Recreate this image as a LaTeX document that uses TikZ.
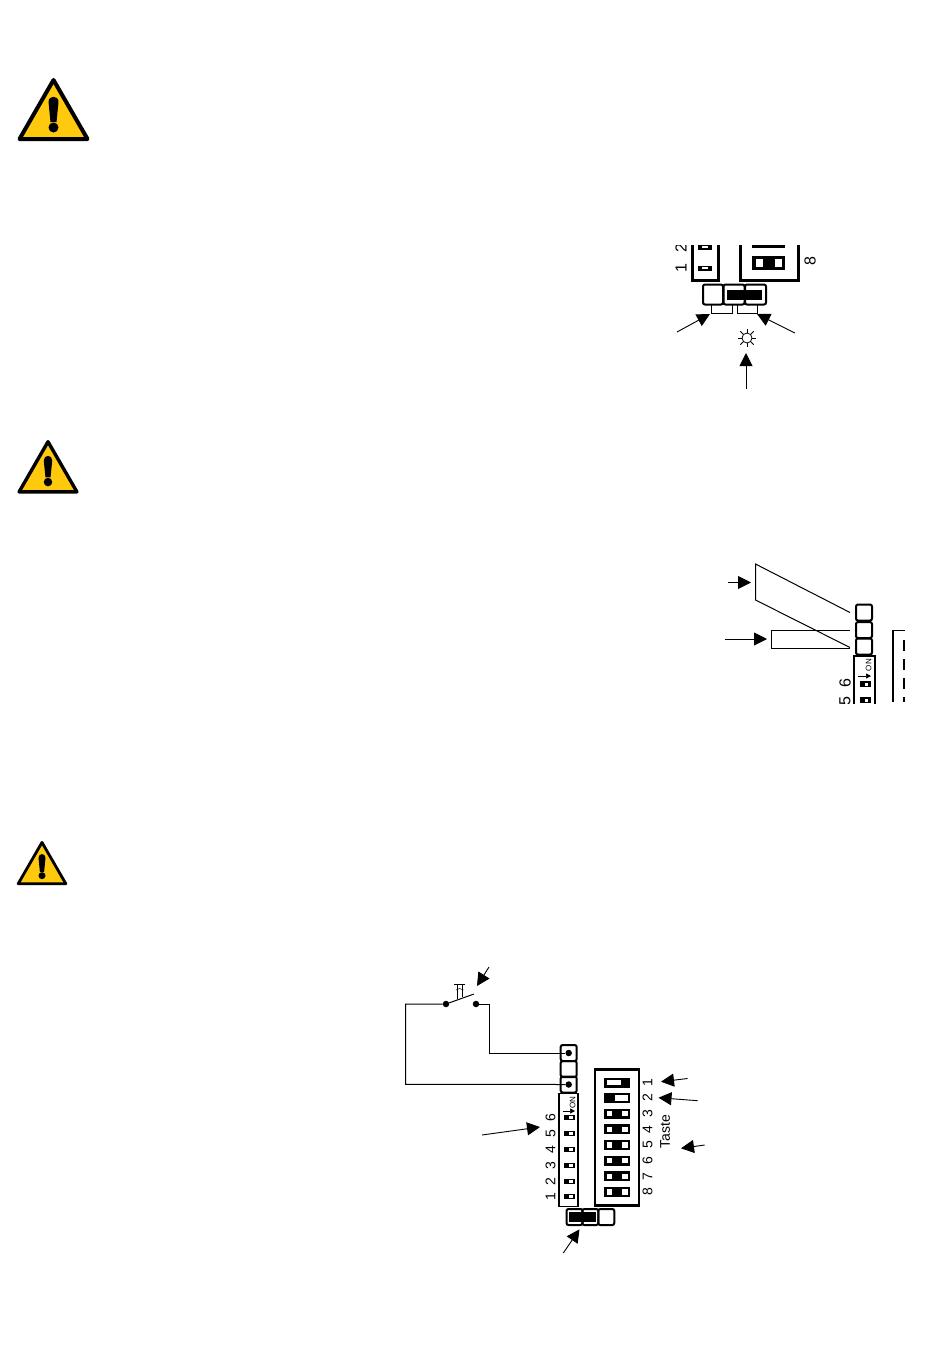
\documentclass[tikz,border=0pt]{standalone}
\usepackage{fontspec}
\setmainfont{Liberation Sans}
\usetikzlibrary{arrows.meta}
\definecolor{warnyellow}{HTML}{FFC90E}
\tikzset{
  term/.style = {draw, line width=2pt, rounded corners=2pt, inner sep=0pt, minimum width=16pt, minimum height=16pt},
  bar/.style = {fill=black, inner sep=0pt, minimum width=26pt, minimum height=10pt},
  gap/.style = {fill=white, inner sep=0pt, minimum height=5.5pt},
  dot/.style = {circle, fill=black, inner sep=0pt, minimum size=6.5pt},
  num/.style = {rotate=90, inner sep=0pt, font=\fontsize{14}{14}\selectfont},
  bignum/.style = {rotate=90, inner sep=0pt, font=\fontsize{16}{16}\selectfont},
  arr/.style = {line width=0.9pt, -{Triangle[length=13pt, width=13pt]}},
  wire/.style = {line width=1pt},
  frame/.style = {line width=3pt},
}
\newcommand{\warnsign}[3]{
  \begin{scope}[shift={(#1,#2)}, scale=#3]
    \filldraw[fill=warnyellow, line width=#3*4pt, line join=round] (0,2) -- (34,61) -- (-34,61) -- cycle;
    \fill (-5,24) .. controls (-5,17) and (5,17) .. (5,24) -- (3,44) -- (-3,44) -- cycle;
    \fill (0,49.5) circle (5);
  \end{scope}
}
\begin{document}
\begin{tikzpicture}[x=1pt, y=-1pt]
    \useasboundingbox (0,0) rectangle (950,1369);

    \warnsign{53.5}{78}{1}
    \warnsign{48}{440}{0.85}
    \warnsign{42}{841}{0.7}

    % jumper, top
    \begin{scope}
        \clip (670,245.5) rectangle (830,300);
        \draw[frame] (692,240) -- (692,280) -- (718,280) -- (718,240);
        \draw[frame] (740,240) -- (740,280) -- (798,280) -- (798,240);
        \node[bignum] (topb) at (681,248) {2};
        \node[bar, minimum width=14pt, minimum height=5pt] (tops2) at (705,247) {};
        \node[gap, minimum width=6pt, minimum height=2pt] at (705,247) {};
        \node[bar, minimum width=33pt, minimum height=8pt] (topk7) at (768.5,244) {};
    \end{scope}
    \node[bignum] (topa) at (681,268) {1};
    \node[bar, minimum width=14pt, minimum height=5pt] (tops1) at (705,268) {};
    \node[gap, minimum width=6pt, minimum height=2pt] at (705,268) {};
    \node[bar, minimum width=33pt, minimum height=14pt] (topk8) at (768.5,263) {};
    \node[gap, minimum width=7pt, minimum height=8pt] at (759,263) {};
    \node[gap, minimum width=7pt, minimum height=8pt] at (778,263) {};
    \node[bignum] (topc) at (810,261) {8};

    \node[term, minimum width=20pt, minimum height=20pt] (T1) at (713,294.5) {};
    \node[term, minimum width=21pt, minimum height=20pt] (T2) at (734,294.5) {};
    \node[term, minimum width=21pt, minimum height=20pt] (T3) at (755.5,294.5) {};
    \node[fill=black, inner sep=0pt, minimum width=35pt, minimum height=10pt] (J1) at (744.5,295) {};

    \draw[line width=0.6pt] (711,305) |- (732,313) -- (732,305);
    \draw[line width=0.6pt] (737,305) |- (757,313) -- (757,305);

    \coordinate (a1) at (677,332);
    \coordinate (a2) at (710,314);
    \coordinate (b1) at (795,333);
    \coordinate (b2) at (757,314);
    \coordinate (c1) at (746,389);
    \coordinate (c2) at (746,353);
    \draw[arr] (a1) -- (a2);
    \draw[arr] (b1) -- (b2);
    \draw[arr] (c1) -- (c2);

    \node[draw, circle, line width=0.8pt, inner sep=0pt, minimum size=10pt] (sun) at (747,338) {};
    \foreach \a in {0,45,...,315}
        \draw[line width=0.9pt] (sun.\a) -- ++(-\a:4);

    % two wires, middle
    \node[term] (M1) at (864,612.5) {};
    \node[term] (M2) at (864,630) {};
    \node[term] (M3) at (864,646.5) {};
    \coordinate (p1) at (755.5,564);
    \coordinate (p2) at (755.5,600);
    \coordinate (p3) at (850,612.5);
    \coordinate (p4) at (850,647.5);
    \coordinate (r1) at (771,630);
    \coordinate (r2) at (771,648);
    \coordinate (r3) at (850,630);
    \coordinate (r4) at (850,648);
    \draw[wire] (p3) -- (p1) -- (p2) -- (p4);
    \draw[wire] (r3) -- (r1) -- (r2) -- (r4);
    \coordinate (d1) at (728,582.5);
    \coordinate (d2) at (751,582.5);
    \coordinate (e1) at (725,639);
    \coordinate (e2) at (767,639);
    \draw[arr] (d1) -- (d2);
    \draw[arr] (e1) -- (e2);
    \begin{scope}
        \clip (830,650) rectangle (915,703);
        \draw[line width=2.2pt] (854,720) -- (854,656) -- (875,656) -- (875,720);
        \node[rotate=90, inner sep=0pt, font=\fontsize{8}{8}\selectfont] (monn) at (868.5,665) {ON};
        \draw[line width=0.7pt, -{Triangle[length=5pt, width=5pt]}] (858,676) -- (871,676);
        \node[bignum] (m6) at (845,683) {6};
        \node[bignum] (m5) at (845,701) {5};
        \node[fill=black, inner sep=0pt, minimum width=11pt, minimum height=6pt] (ms6) at (865,684) {};
        \node[fill=black, inner sep=0pt, minimum width=11pt, minimum height=6pt] (ms5) at (865,700) {};
        \node[gap, minimum width=3pt, minimum height=3pt] at (866,684) {};
        \node[gap, minimum width=3pt, minimum height=3pt] at (866,700) {};
    \end{scope}
    \draw[line width=1.8pt] (905,630.5) -- (893,630.5) -- (893,702);
    \draw[line width=1.3pt, dash pattern=on 11pt off 8pt] (904,640) -- (904,702);

    % push button, bottom
    \node[term] (K1) at (568.7,1053) {};
    \node[term] (K2) at (568.7,1069) {};
    \node[term] (K3) at (568.7,1084.5) {};
    \node[dot] (kd1) at (K1) {};
    \node[dot] (kd3) at (K3) {};
    \node[dot] (sw1) at (446,1004) {};
    \node[dot] (sw2) at (476,1004) {};
    \coordinate (lev) at (474,994);
    \draw[wire] (sw1) -- (lev);
    \draw[wire] (sw1) -| (405.5,1084.3) -- (kd3);
    \draw[wire] (sw2) -| (489.5,1053) -- (kd1);
    \draw[line width=0.7pt] (454,984.5) -- (465,984.5);
    \draw[line width=0.7pt] (457.5,985) -- (457.5,998.5);
    \draw[line width=0.7pt] (462.5,985) -- (462.5,996.5);
    \draw[line width=0.5pt] (456,990) -- (459.5,988.5) -- (463.5,990);
    \coordinate (f1) at (489,967);
    \coordinate (f2) at (477,986);
    \draw[arr] (f1) -- (f2);

    \node[draw, line width=1.8pt, inner sep=0pt, minimum width=19pt, minimum height=113pt] (dipA) at (568.8,1150) {};
    \node[rotate=90, inner sep=0pt, font=\fontsize{8}{8}\selectfont] (onA) at (572.5,1102.5) {ON};
    \draw[line width=0.7pt, -{Triangle[length=5pt, width=5pt]}] (562.5,1111) -- (575,1111);
    \foreach \n/\yy in {6/1117.7, 5/1133.7, 4/1149.7, 3/1165.3, 2/1181.3, 1/1196.7} {
        \node[num] (da\n) at (550.5,\yy) {\n};
        \node[fill=black, inner sep=0pt, minimum width=11pt, minimum height=5.5pt] (sa\n) at (569.7,\yy) {};
        \node[gap, minimum width=4.5pt, minimum height=2.5pt] at (571,\yy) {};
    }

    \node[draw, line width=2.4pt, inner sep=0pt, minimum width=44pt, minimum height=136pt] (dipB) at (617.2,1137.5) {};
    \foreach \n/\yy in {3/1113.7, 4/1129.3, 5/1145, 6/1160.7, 7/1176.3, 8/1192} {
        \node[bar] (sb\n) at (617,\yy) {};
        \node[gap, minimum width=5.8pt] at (609.5,\yy) {};
        \node[gap, minimum width=5.8pt] at (624.7,\yy) {};
    }
    \node[bar] (sb1) at (617,1082.7) {};
    \node[gap, minimum width=14pt] at (613.5,1082.7) {};
    \node[bar] (sb2) at (617,1098) {};
    \node[gap, minimum width=13.5pt] at (621.5,1098) {};
    \foreach \n/\yy in {1/1082.7, 2/1098, 3/1113.7, 4/1129.3, 5/1145, 6/1160.7, 7/1176.3, 8/1192}
        \node[num] (db\n) at (647.5,\yy) {\n};
    \node[num] (taste) at (665,1131.5) {Taste};

    \node[term] (L1) at (574.5,1217) {};
    \node[term] (L2) at (590.3,1217) {};
    \node[term] (L3) at (606.3,1217) {};
    \node[fill=black, inner sep=0pt, minimum width=26.5pt, minimum height=10pt] (J2) at (582.5,1216.7) {};

    \coordinate (g1) at (687.5,1078.5);
    \coordinate (g2) at (661,1081.7);
    \coordinate (h1) at (697.7,1100.7);
    \coordinate (h2) at (658.5,1097.7);
    \coordinate (i1) at (704.7,1145);
    \coordinate (i2) at (681,1148.3);
    \coordinate (k1) at (482,1135);
    \coordinate (k2) at (540,1127);
    \coordinate (l1) at (563.3,1253);
    \coordinate (l2) at (579.5,1229.3);
    \draw[arr] (g1) -- (g2);
    \draw[arr] (h1) -- (h2);
    \draw[arr] (i1) -- (i2);
    \draw[arr] (k1) -- (k2);
    \draw[arr] (l1) -- (l2);
\end{tikzpicture}
\end{document}
